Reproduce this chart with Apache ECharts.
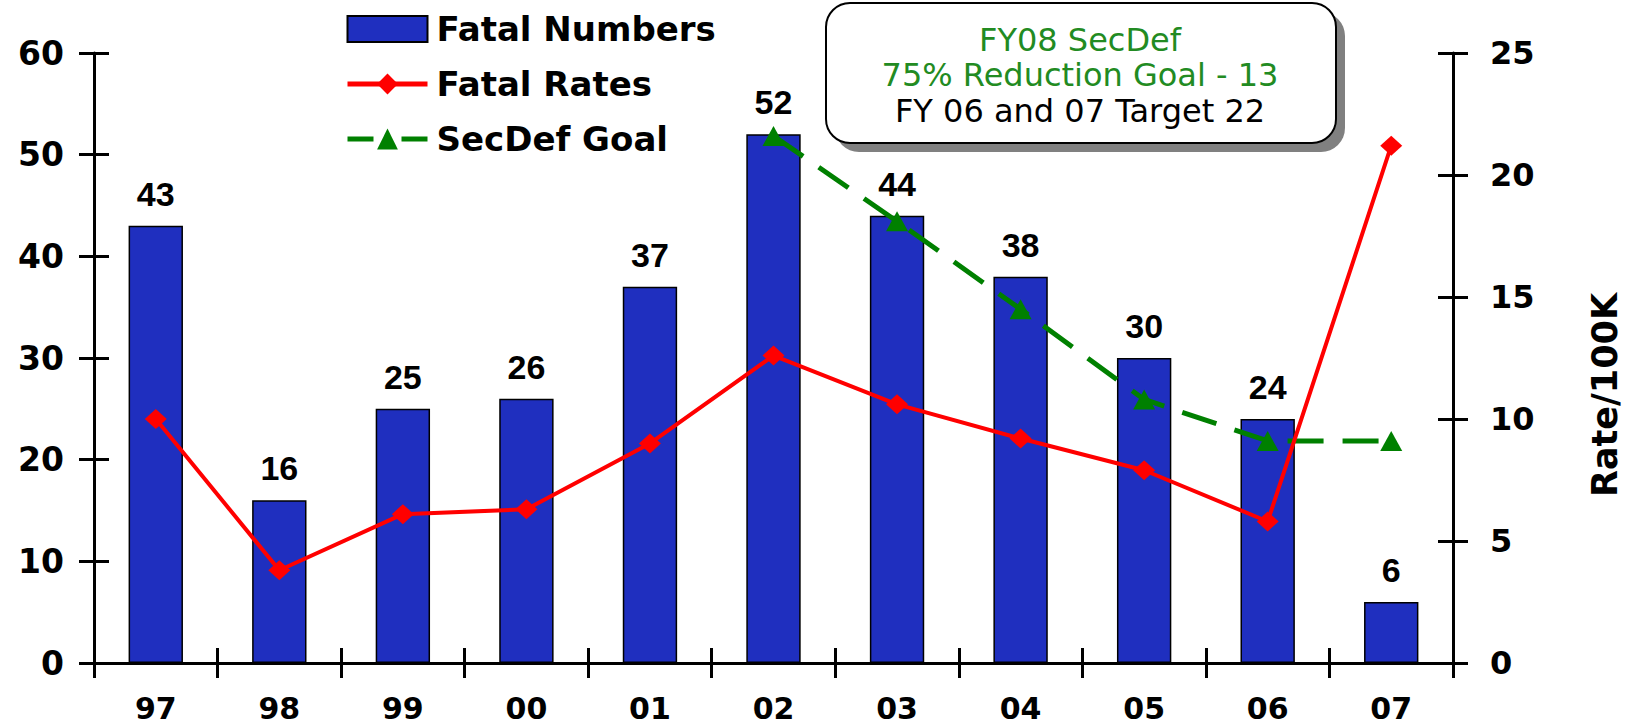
<!DOCTYPE html>
<html>
<head>
<meta charset="utf-8">
<title>Fatal Numbers / Fatal Rates</title>
<script src="https://cdn.jsdelivr.net/npm/echarts@6/dist/echarts.min.js"></script>
<style>
  html, body { margin: 0; padding: 0; background: #fff; }
  #chart { width: 1638px; height: 724px; }
</style>
</head>
<body>
<div id="chart"></div>
<script>
// 数据
const years = ['97', '98', '99', '00', '01', '02', '03', '04', '05', '06', '07']
const fatalNumbers = [43, 16, 25, 26, 37, 52, 44, 38, 30, 24, 6]
const fatalRates = [10.0, 3.8, 6.1, 6.3, 9.0, 12.6, 10.6, 9.2, 7.9, 5.8, 21.2]
const secDefGoal = ['-', '-', '-', '-', '-', 21.6, 18.1, 14.5, 10.8, 9.1, 9.1]
const leftTicks = { min: 0, max: 60, interval: 10 }
const rightTicks = { min: 0, max: 25, interval: 5 }
const noteLines = ['FY08 SecDef', '75% Reduction Goal - 13', 'FY 06 and 07 Target 22']

const wideBold = "'DejaVu Sans', sans-serif"
const arial = "'Liberation Sans', Arial, sans-serif"

const myChart = echarts.init(document.getElementById('chart'), null, { renderer: 'svg' })

// 轴线公共样式
const axisLine = { show: true, lineStyle: { color: '#000', width: 3 } }
const tickOut = { show: true, inside: false, length: 15, lineStyle: { color: '#000', width: 3 } }
const tickIn = { show: true, inside: true, length: 15, lineStyle: { color: '#000', width: 3 } }

const option = {
  animation: false,
  backgroundColor: '#fff',
  grid: { left: 94, right: 185, top: 53, bottom: 61 },
  legend: {
    orient: 'vertical',
    left: 340,
    top: 7,
    itemWidth: 80,
    itemHeight: 26,
    itemGap: 21,
    data: [
      { name: 'Fatal Numbers', icon: 'rect' },
      { name: 'Fatal Rates', lineStyle: { width: 5 } },
      { name: 'SecDef Goal', lineStyle: { width: 5, type: [26, 28] } }
    ],
    textStyle: { fontFamily: wideBold, fontWeight: 'bold', fontSize: 34, color: '#000', padding: [0, 0, 0, 4] }
  },
  xAxis: [
    {
      type: 'category',
      data: years,
      axisLine: axisLine,
      axisTick: tickOut,
      axisLabel: { margin: 30, color: '#000', fontFamily: wideBold, fontWeight: 'bold', fontSize: 30 }
    },
    {
      // 只用来画向内的刻度，做出十字刻度
      type: 'category',
      data: years,
      position: 'bottom',
      axisLine: { show: false },
      axisTick: tickIn,
      axisLabel: { show: false }
    }
  ],
  yAxis: [
    {
      type: 'value',
      position: 'left',
      ...leftTicks,
      axisLine: axisLine,
      axisTick: tickOut,
      splitLine: { show: false },
      axisLabel: { margin: 30, color: '#000', fontFamily: wideBold, fontWeight: 'bold', fontSize: 33 }
    },
    {
      type: 'value',
      position: 'right',
      ...rightTicks,
      axisLine: axisLine,
      axisTick: tickOut,
      splitLine: { show: false },
      axisLabel: { margin: 37, color: '#000', fontFamily: wideBold, fontWeight: 'bold', fontSize: 32 }
    },
    {
      type: 'value',
      position: 'left',
      ...leftTicks,
      axisLine: { show: false },
      axisTick: tickIn,
      splitLine: { show: false },
      axisLabel: { show: false }
    },
    {
      type: 'value',
      position: 'right',
      ...rightTicks,
      axisLine: { show: false },
      axisTick: tickIn,
      splitLine: { show: false },
      axisLabel: { show: false }
    }
  ],
  series: [
    {
      name: 'Fatal Numbers',
      type: 'bar',
      yAxisIndex: 0,
      barWidth: '44%',
      data: fatalNumbers,
      itemStyle: { color: '#1f2fbf', borderColor: '#000', borderWidth: 1.5 },
      label: {
        show: true,
        position: 'top',
        distance: 15,
        color: '#000',
        fontFamily: arial,
        fontWeight: 'bold',
        fontSize: 34
      }
    },
    {
      name: 'SecDef Goal',
      type: 'line',
      yAxisIndex: 1,
      data: secDefGoal,
      symbol: 'triangle',
      symbolSize: [22, 20],
      itemStyle: { color: '#008000' },
      lineStyle: { color: '#008000', width: 5, type: [36, 19] }
    },
    {
      name: 'Fatal Rates',
      type: 'line',
      yAxisIndex: 1,
      data: fatalRates,
      symbol: 'diamond',
      symbolSize: [22, 20],
      itemStyle: { color: '#ff0000' },
      lineStyle: { color: '#ff0000', width: 4 }
    }
  ],
  graphic: [
    // 注释框：阴影 + 圆角框 + 三行文字
    { type: 'rect', left: 835, top: 12, shape: { width: 510, height: 140, r: 24 }, style: { fill: '#808080' }, z: 10 },
    { type: 'rect', left: 825, top: 2, shape: { width: 510, height: 140, r: 24 }, style: { fill: '#fff', stroke: '#000', lineWidth: 2 }, z: 11 },
    { type: 'text', x: 1080, y: 40, style: { text: noteLines[0], fill: '#228b22', font: "32px 'DejaVu Sans'", align: 'center', verticalAlign: 'middle' }, z: 12 },
    { type: 'text', x: 1080, y: 75, style: { text: noteLines[1], fill: '#228b22', font: "32px 'DejaVu Sans'", align: 'center', verticalAlign: 'middle' }, z: 12 },
    { type: 'text', x: 1080, y: 111, style: { text: noteLines[2], fill: '#000', font: "32px 'DejaVu Sans'", align: 'center', verticalAlign: 'middle' }, z: 12 },
    // 右轴名称
    { type: 'text', x: 1605, y: 395, rotation: Math.PI / 2, style: { text: 'Rate/100K', fill: '#000', font: "bold 35px 'DejaVu Sans'", align: 'center', verticalAlign: 'middle' }, z: 12 }
  ]
}

myChart.setOption(option)
</script>
</body>
</html>
